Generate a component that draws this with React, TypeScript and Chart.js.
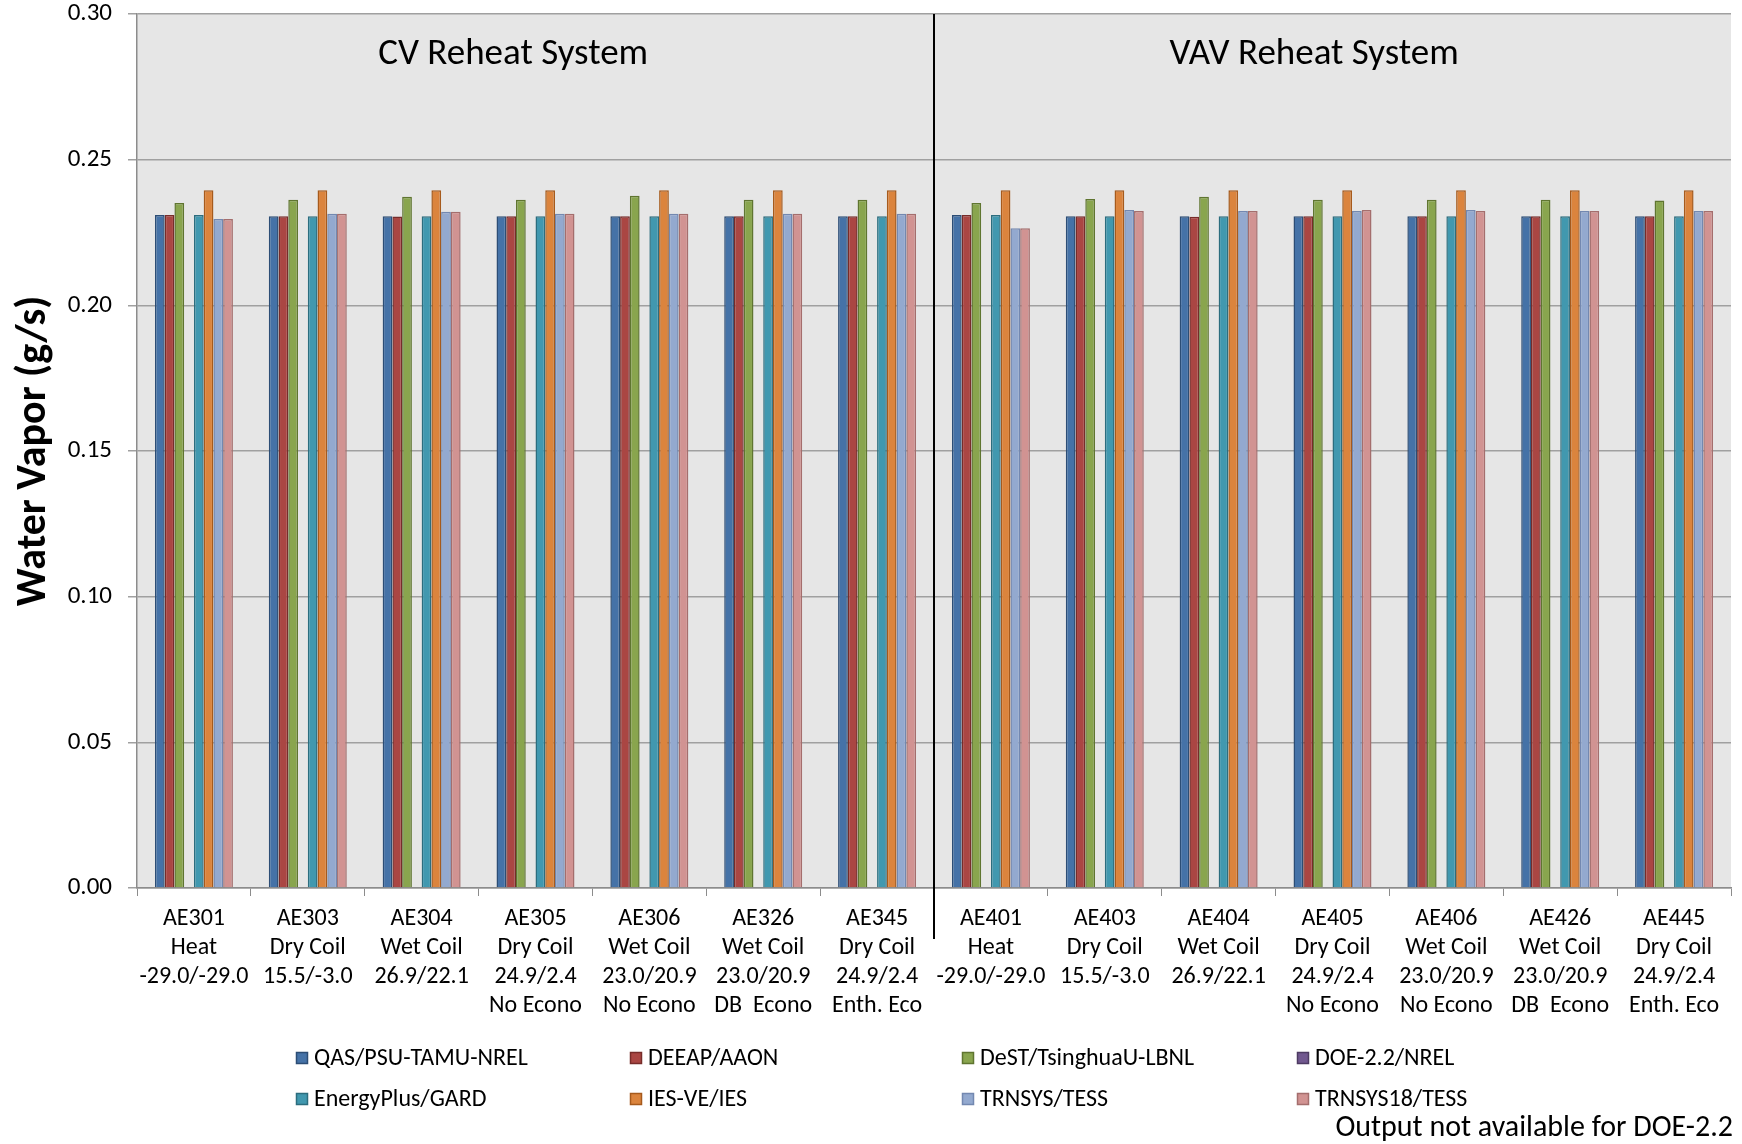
import React, { useEffect, useRef } from "react";
import { Chart, registerables } from "chart.js";

Chart.register(...registerables);

const categories: string[][] = [
  ["AE301", "Heat", "-29.0/-29.0"],
  ["AE303", "Dry Coil", "15.5/-3.0"],
  ["AE304", "Wet Coil", "26.9/22.1"],
  ["AE305", "Dry Coil", "24.9/2.4", "No Econo"],
  ["AE306", "Wet Coil", "23.0/20.9", "No Econo"],
  ["AE326", "Wet Coil", "23.0/20.9", "DB  Econo"],
  ["AE345", "Dry Coil", "24.9/2.4", "Enth. Eco"],
  ["AE401", "Heat", "-29.0/-29.0"],
  ["AE403", "Dry Coil", "15.5/-3.0"],
  ["AE404", "Wet Coil", "26.9/22.1"],
  ["AE405", "Dry Coil", "24.9/2.4", "No Econo"],
  ["AE406", "Wet Coil", "23.0/20.9", "No Econo"],
  ["AE426", "Wet Coil", "23.0/20.9", "DB  Econo"],
  ["AE445", "Dry Coil", "24.9/2.4", "Enth. Eco"],
];

const seriesNames = [
  "QAS/PSU-TAMU-NREL",
  "DEEAP/AAON",
  "DeST/TsinghuaU-LBNL",
  "DOE-2.2/NREL",
  "EnergyPlus/GARD",
  "IES-VE/IES",
  "TRNSYS/TESS",
  "TRNSYS18/TESS",
];

const qas = [0.2310, 0.2306, 0.2306, 0.2306, 0.2306, 0.2306, 0.2306, 0.2310, 0.2306, 0.2306, 0.2306, 0.2306, 0.2306, 0.2306];
const deeap = [0.2310, 0.2306, 0.2305, 0.2306, 0.2306, 0.2306, 0.2306, 0.2310, 0.2306, 0.2304, 0.2306, 0.2306, 0.2306, 0.2306];
const dest = [0.2351, 0.2362, 0.2373, 0.2362, 0.2376, 0.2362, 0.2362, 0.2351, 0.2365, 0.2373, 0.2362, 0.2362, 0.2362, 0.2360];
const doe22: (number | null)[] = [null, null, null, null, null, null, null, null, null, null, null, null, null, null];
const energyPlus = [0.2310, 0.2306, 0.2306, 0.2306, 0.2306, 0.2306, 0.2306, 0.2310, 0.2306, 0.2306, 0.2306, 0.2306, 0.2306, 0.2306];
const iesVe = [0.2395, 0.2395, 0.2395, 0.2395, 0.2395, 0.2395, 0.2395, 0.2395, 0.2395, 0.2395, 0.2395, 0.2395, 0.2395, 0.2395];
const trnsys = [0.2296, 0.2314, 0.2321, 0.2314, 0.2314, 0.2314, 0.2314, 0.2265, 0.2327, 0.2324, 0.2324, 0.2327, 0.2324, 0.2324];
const trnsys18 = [0.2296, 0.2314, 0.2321, 0.2314, 0.2314, 0.2314, 0.2314, 0.2265, 0.2324, 0.2324, 0.2327, 0.2324, 0.2324, 0.2324];

const seriesValues = [qas, deeap, dest, doe22, energyPlus, iesVe, trnsys, trnsys18];

const fills = ["#4572A7", "#AA4643", "#89A54E", "#71588F", "#4198AF", "#DB843D", "#93A9CF", "#D19392"];
const borders = ["#2C4D75", "#772C2A", "#5F7530", "#4D3B62", "#2C6D7E", "#A65A1C", "#7388B0", "#A46E6D"];

const sectionTitles = ["CV Reheat System", "VAV Reheat System"];
const yTitle = "Water Vapor (g/s)";
const note = "Output not available for DOE-2.2";

const FONT = "Carlito, Lato, 'Liberation Sans', sans-serif";

export default function App() {
  const ref = useRef<HTMLCanvasElement | null>(null);

  useEffect(() => {
    document.body.style.margin = "0";
    const canvas = ref.current;
    if (!canvas) return;

    const bgPlugin = {
      id: "bgPlugin",
      beforeDraw(chart: any) {
        const { ctx, chartArea } = chart;
        ctx.save();
        ctx.fillStyle = "#E6E6E6";
        ctx.fillRect(chartArea.left, chartArea.top, chartArea.right - chartArea.left, chartArea.bottom - chartArea.top);
        ctx.restore();
      },
      afterDraw(chart: any) {
        const { ctx, chartArea } = chart;
        const xs = chart.scales.x;
        const divX = Math.round((xs.getPixelForValue(6) + xs.getPixelForValue(7)) / 2);
        ctx.save();
        ctx.strokeStyle = "#000";
        ctx.lineWidth = 2;
        ctx.beginPath();
        ctx.moveTo(divX, chartArea.top);
        ctx.lineTo(divX, chartArea.bottom + 51);
        ctx.stroke();
        ctx.fillStyle = "#000";
        ctx.font = `37px ${FONT}`;
        ctx.textAlign = "center";
        ctx.textBaseline = "middle";
        const w1 = divX - chartArea.left;
        const w2 = chartArea.right - divX;
        ctx.fillText(sectionTitles[0], chartArea.left + w1 * 0.472, chartArea.top + 41);
        ctx.fillText(sectionTitles[1], divX + w2 * 0.477, chartArea.top + 41);
        const colX = [296, 630, 962, 1297];
        const rowY = [1058, 1099];
        ctx.font = `24px ${FONT}`;
        ctx.textAlign = "left";
        seriesNames.forEach((name, i) => {
          const cx = colX[i % 4];
          const cy = rowY[Math.floor(i / 4)];
          ctx.fillStyle = fills[i];
          ctx.fillRect(cx, cy - 6, 12, 12);
          ctx.strokeStyle = borders[i];
          ctx.lineWidth = 1.5;
          ctx.strokeRect(cx + 0.5, cy - 5.5, 11, 11);
          ctx.fillStyle = "#000";
          ctx.fillText(name, cx + 18, cy + 1);
        });
        ctx.font = `30px ${FONT}`;
        ctx.textAlign = "right";
        ctx.fillText(note, 1733, 1128);
        ctx.restore();
      },
    };

    const chart = new Chart(canvas, {
      type: "bar",
      data: {
        labels: categories,
        datasets: seriesNames.map((name, i) => ({
          label: name,
          data: seriesValues[i],
          backgroundColor: fills[i],
          borderColor: borders[i],
          borderWidth: 1.5,
          categoryPercentage: 0.685,
          barPercentage: 1.0,
        })),
      },
      options: {
        responsive: false,
        animation: false,
        layout: { padding: { top: 14, right: 11, bottom: 126, left: 0 } },
        plugins: {
          legend: { display: false },
          tooltip: { enabled: false },
        },
        scales: {
          x: {
            afterFit(scale: any) {
              scale.height = 130;
            },
            grid: {
              offset: true,
              drawOnChartArea: false,
              drawTicks: true,
              tickLength: 8,
              color: "#8C8C8C",
            },
            border: { color: "#8C8C8C", width: 1.5 },
            ticks: {
              color: "#000",
              font: { family: FONT, size: 24, lineHeight: "29px" as any },
              padding: 8,
              maxRotation: 0,
              autoSkip: false,
            },
          },
          y: {
            min: 0,
            max: 0.3,
            afterFit(scale: any) {
              scale.width = 137;
              scale.paddingTop = 0;
              scale.paddingBottom = 0;
            },
            ticks: {
              stepSize: 0.05,
              color: "#000",
              font: { family: FONT, size: 25 },
              padding: 16,
              callback: (v: any) => Number(v).toFixed(2),
            },
            grid: {
              color: "#A0A0A0",
              lineWidth: 1.5,
              tickLength: 9,
              drawTicks: true,
            },
            border: { color: "#8C8C8C", width: 1.5 },
            title: {
              display: true,
              text: yTitle,
              color: "#000",
              font: { family: FONT, size: 42, weight: "bold" },
              padding: { top: 9, bottom: 0 },
            },
          },
        },
      },
      plugins: [bgPlugin],
    });

    return () => chart.destroy();
  }, []);

  return (
    <div style={{ width: 1742, height: 1144, position: "relative" }}>
      <canvas ref={ref} width={1742} height={1144} style={{ width: 1742, height: 1144, display: "block" }} />
    </div>
  );
}
